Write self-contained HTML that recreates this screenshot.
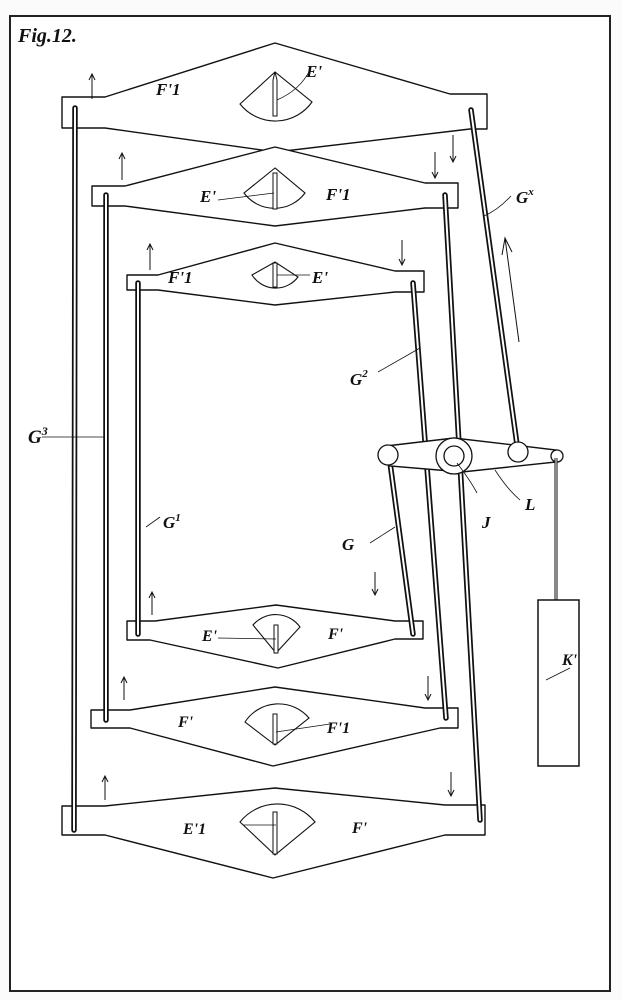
<!DOCTYPE html>
<html><head><style>
html,body{margin:0;padding:0;background:#fff;}
svg{display:block}
text{font-family:"Liberation Serif",serif;font-style:italic;font-weight:bold;fill:#111}
</style></head><body>
<svg width="622" height="1000" viewBox="0 0 622 1000" xmlns="http://www.w3.org/2000/svg">
<rect x="0" y="0" width="622" height="1000" fill="#fbfbfb"/>
<rect x="10" y="16" width="600" height="975" fill="#fff" stroke="#222" stroke-width="2"/>
<text x="18" y="42" font-size="20">Fig.12.</text>

<g fill="#fff" stroke="#111" stroke-width="1.4" stroke-linejoin="round">
<path d="M62,97 L105,97 L275,43 L450,94 L487,94 L487,129 L470,129 L276,152 L105,128 L62,128 Z"/>
<path d="M92,186 L125,186 L275,147 L425,183 L458,183 L458,208 L425,208 L275,226 L125,206 L92,206 Z"/>
<path d="M127,275 L158,275 L275,243 L395,271 L424,271 L424,292 L395,292 L275,305 L158,290 L127,290 Z"/>
<path d="M127,621 L155,621 L276,605 L395,621 L423,621 L423,639 L395,639 L278,668 L150,640 L127,640 Z"/>
<path d="M91,710 L130,710 L275,687 L425,708 L458,708 L458,728 L440,728 L273,766 L130,728 L91,728 Z"/>
<path d="M62,806 L105,806 L275,788 L445,805 L485,805 L485,835 L445,835 L273,878 L105,835 L62,835 Z"/>
</g>

<g fill="none" stroke="#111" stroke-width="1.1">
<path d="M275,72 L240,104 A45,45 0 0 0 312,102 Z"/>
<path d="M275,168 L244,193 A38,38 0 0 0 305,193 Z"/>
<path d="M275,262 L252,275 A28,28 0 0 0 298,277 Z"/>
<path d="M276,653 L253,625 A30,30 0 0 1 300,627 Z"/>
<path d="M275,745 L245,722 A40,40 0 0 1 309,718 Z"/>
<path d="M275,855 L240,822 A48,48 0 0 1 315,822 Z"/>
</g>
<g fill="#fff" stroke="#111" stroke-width="1">
<path d="M273,80 L275,72 L277,80 L277,116 L273,116 Z"/>
<rect x="273" y="173" width="4" height="36"/>
<rect x="273" y="263" width="4" height="24"/>
<rect x="274" y="625" width="4" height="28"/>
<rect x="273" y="714" width="4" height="30"/>
<rect x="273" y="812" width="4" height="42"/>
</g>

<g stroke-linecap="round">
<g stroke="#111" stroke-width="5.5" fill="none">
<line x1="75" y1="108" x2="74" y2="830"/>
<line x1="106" y1="195" x2="106" y2="720"/>
<line x1="138" y1="283" x2="138" y2="634"/>
<line x1="471" y1="110" x2="518" y2="452"/>
<line x1="445" y1="195" x2="480" y2="820"/>
<line x1="413" y1="283" x2="446" y2="718"/>
<line x1="389" y1="455" x2="413" y2="634"/>
</g>
<g stroke="#fff" stroke-width="2" fill="none">
<line x1="75" y1="108" x2="74" y2="830"/>
<line x1="106" y1="195" x2="106" y2="720"/>
<line x1="138" y1="283" x2="138" y2="634"/>
<line x1="471" y1="110" x2="518" y2="452"/>
<line x1="445" y1="195" x2="480" y2="820"/>
<line x1="413" y1="283" x2="446" y2="718"/>
<line x1="389" y1="455" x2="413" y2="634"/>
</g>
</g>

<path d="M386,446 L454,438 L556,450 L556,462 L462,472 L390,466 Z" fill="#fff" stroke="#111" stroke-width="1.4"/>
<g fill="#fff" stroke="#111" stroke-width="1.3">
<circle cx="388" cy="455" r="10"/>
<circle cx="454" cy="456" r="18"/>
<circle cx="454" cy="456" r="10"/>
<circle cx="518" cy="452" r="10"/>
<circle cx="557" cy="456" r="6"/>
</g>
<line x1="556" y1="458" x2="556" y2="600" stroke="#111" stroke-width="3"/>
<line x1="556" y1="458" x2="556" y2="600" stroke="#fff" stroke-width="1"/>
<rect x="538" y="600" width="41" height="166" fill="#fff" stroke="#111" stroke-width="1.5"/>

<g stroke="#111" stroke-width="1" fill="none">
<path d="M92,99 V74 M89,80 L92,74 L95,80"/>
<path d="M122,180 V153 M119,159 L122,153 L125,159"/>
<path d="M150,270 V244 M147,250 L150,244 L153,250"/>
<path d="M453,135 V162 M450,156 L453,162 L456,156"/>
<path d="M435,178 V152 M432,172 L435,178 L438,172"/>
<path d="M402,265 V240 M399,259 L402,265 L405,259"/>
<path d="M519,342 L505,238 M502,255 L505,238 L512,252"/>
<path d="M375,572 V595 M372,589 L375,595 L378,589"/>
<path d="M152,615 V592 M149,598 L152,592 L155,598"/>
<path d="M124,700 V677 M121,683 L124,677 L127,683"/>
<path d="M428,676 V700 M425,694 L428,700 L431,694"/>
<path d="M105,800 V776 M102,782 L105,776 L108,782"/>
<path d="M451,772 V796 M448,790 L451,796 L454,790"/>
</g>

<g stroke="#111" stroke-width="0.8" fill="none">
<path d="M277,100 Q300,90 310,70"/>
<path d="M218,200 L274,193"/>
<path d="M277,275 L310,275"/>
<path d="M484,216 Q498,210 511,196"/>
<path d="M378,372 L420,348"/>
<path d="M42,437 L105,437"/>
<path d="M146,527 L160,517"/>
<path d="M370,543 L395,527"/>
<path d="M457,463 Q470,480 477,493"/>
<path d="M495,470 Q508,490 520,500"/>
<path d="M218,638 L276,639"/>
<path d="M276,732 L330,724"/>
<path d="M243,825 L276,825"/>
<path d="M546,680 L570,668"/>
</g>

<g>
<text x="156" y="95" font-size="17">F'1</text>
<text x="306" y="77" font-size="17">E'</text>
<text x="200" y="202" font-size="17">E'</text>
<text x="326" y="200" font-size="17">F'1</text>
<text x="168" y="283" font-size="17">F'1</text>
<text x="312" y="283" font-size="17">E'</text>
<text x="516" y="203" font-size="17">G<tspan font-size="11" dy="-8">x</tspan></text>
<text x="350" y="385" font-size="17">G<tspan font-size="11" dy="-8">2</tspan></text>
<text x="28" y="443" font-size="19">G<tspan font-size="12" dy="-8">3</tspan></text>
<text x="163" y="528" font-size="17">G<tspan font-size="11" dy="-7">1</tspan></text>
<text x="342" y="550" font-size="17">G</text>
<text x="482" y="528" font-size="17">J</text>
<text x="525" y="510" font-size="17">L</text>
<text x="202" y="641" font-size="16">E'</text>
<text x="328" y="639" font-size="16">F'</text>
<text x="178" y="727" font-size="16">F'</text>
<text x="327" y="733" font-size="16">F'1</text>
<text x="183" y="834" font-size="16">E'1</text>
<text x="352" y="833" font-size="16">F'</text>
<text x="562" y="665" font-size="16">K'</text>
</g>
</svg>
</body></html>
